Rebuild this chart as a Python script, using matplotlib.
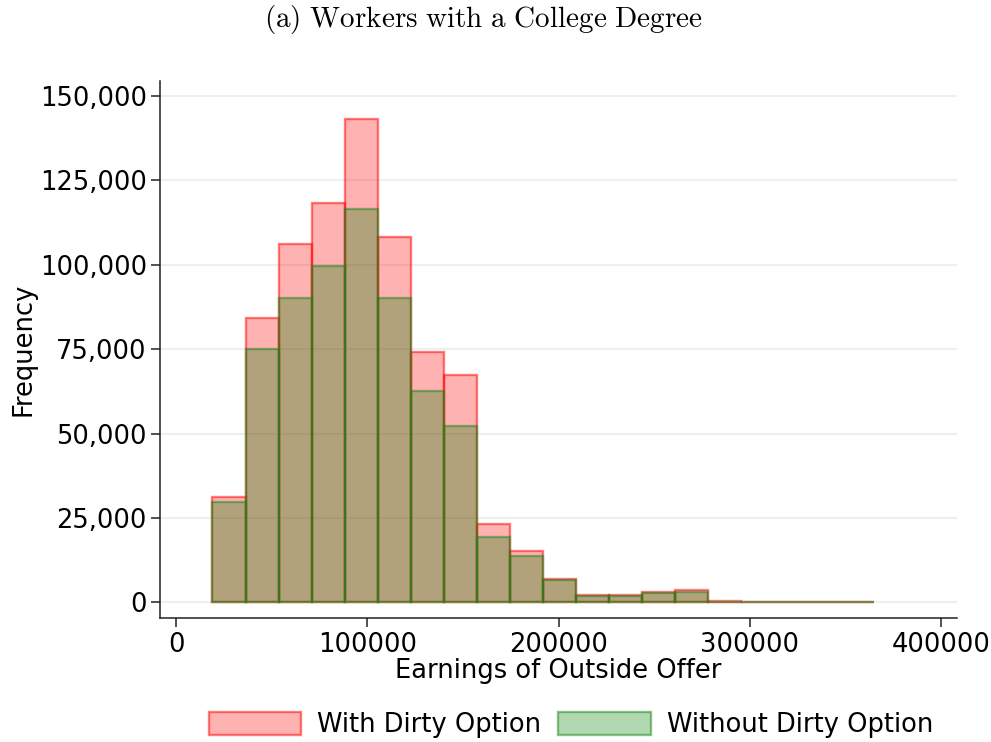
import numpy as np
import matplotlib
matplotlib.use("Agg")
import matplotlib.pyplot as plt
from matplotlib.patches import Patch
from matplotlib.ticker import FuncFormatter

# ---- data ----
bin_start = 19000
bin_width = 17280
n_bins = 20
with_dirty = [31200, 84100, 106200, 118400, 143300, 108100, 74200, 67300, 23300, 15300,
              7000, 2250, 2250, 3200, 3750, 450, 200, 200, 200, 200]
without_dirty = [29700, 75000, 90300, 99800, 116400, 90300, 62500, 52300, 19450, 13600,
                 6600, 1950, 1950, 2850, 2950, 150, 200, 200, 200, 200]
series_labels = ["With Dirty Option", "Without Dirty Option"]
title = "(a) Workers with a College Degree"
xlabel = "Earnings of Outside Offer"
ylabel = "Frequency"
xticks = [0, 100000, 200000, 300000, 400000]
yticks = [0, 25000, 50000, 75000, 100000, 125000, 150000]

edges = bin_start + bin_width * np.arange(n_bins + 1)
centers = (edges[:-1] + edges[1:]) / 2

plt.rcParams['font.family'] = ['DejaVu Sans']
plt.rcParams['mathtext.fontset'] = 'cm'

fs = 18.5
fig = plt.figure(figsize=(9.91, 7.42), dpi=100)
ax = fig.add_axes([0.1615, 0.1667, 0.9654 - 0.1615, 0.8912 - 0.1667])

red_face = (1, 0, 0, 0.3)
red_edge = (1, 0, 0, 0.5)
green_face = (0, 0.5, 0, 0.3)
green_edge = (0.1, 0.52, 0.1, 0.5)
lw = 1.7

ax.hist(centers, bins=edges, weights=with_dirty, facecolor=red_face, edgecolor=red_edge,
        linewidth=lw, zorder=2)
ax.hist(centers, bins=edges, weights=without_dirty, facecolor=green_face, edgecolor=green_edge,
        linewidth=lw, zorder=3)

ax.set_xlim(-8400, 408100)
ax.set_ylim(-4740, 154550)
ax.set_xticks(xticks)
ax.set_yticks(yticks)
ax.xaxis.set_major_formatter(FuncFormatter(lambda v, p: f"{int(v)}"))
ax.yaxis.set_major_formatter(FuncFormatter(lambda v, p: f"{int(v):,}"))

ax.set_axisbelow(True)
ax.grid(axis='y', color='#eaf1f3', linewidth=1.5)
for s in ['top', 'right']:
    ax.spines[s].set_visible(False)
for s in ['left', 'bottom']:
    ax.spines[s].set_linewidth(1.1)
    ax.spines[s].set_color('#222222')
ax.tick_params(axis='both', labelsize=fs, length=6.5, width=1.1, pad=3, color='#222222')

ax.set_xlabel(xlabel, fontsize=fs, labelpad=0)
ax.set_ylabel(ylabel, fontsize=fs, labelpad=2.5)

fig.text(483 / 991, 1 - 20 / 742, r"$\mathrm{(a)\ Workers\ with\ a\ College\ Degree}$",
         ha='center', va='center', fontsize=21)

handles = [Patch(facecolor=red_face, edgecolor=red_edge, linewidth=lw, label=series_labels[0]),
           Patch(facecolor=green_face, edgecolor=green_edge, linewidth=lw, label=series_labels[1])]
fig.legend(handles=handles, loc='center', bbox_to_anchor=(571 / 991, 1 - 725 / 742), ncol=2,
           frameon=False, fontsize=fs, handlelength=3.6, handleheight=1.0,
           handletextpad=0.62, columnspacing=0.66, borderpad=0)

fig.savefig("out.png", dpi=100)
